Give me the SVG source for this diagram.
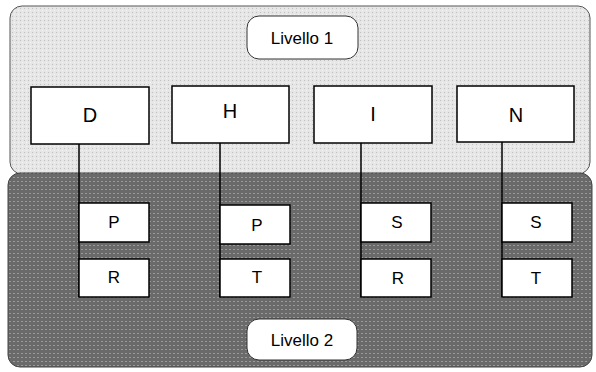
<svg xmlns="http://www.w3.org/2000/svg" width="596" height="372" viewBox="0 0 596 372">
<defs>
<pattern id="lightDots" x="0" y="0" width="4" height="4" patternUnits="userSpaceOnUse">
<rect width="4" height="4" fill="#e6e6e6"/>
<rect x="0" y="0" width="1" height="1" fill="#c0c0c0"/>
<rect x="2" y="2" width="1" height="1" fill="#f6f6f6"/>
</pattern>
<pattern id="darkDots" x="0" y="0" width="4" height="4" patternUnits="userSpaceOnUse">
<rect width="4" height="4" fill="#6a6a6a"/>
<rect x="1" y="1" width="2" height="1" fill="#9a9a9a"/>
</pattern>
<style>
.box{fill:#ffffff;stroke:#000000;stroke-width:1.5}
.lbl{fill:#ffffff;stroke:#333333;stroke-width:1}
.conn{stroke:#000000;stroke-width:1.5;fill:none}
text{font-family:"Liberation Sans",Arial,sans-serif;fill:#000000;text-anchor:middle}
.big{font-size:20px}
.small{font-size:17px}
.lv{font-size:17px}
</style>
</defs>
<g id="panel1">
<rect x="10" y="6" width="580" height="168" rx="12" ry="12" fill="url(#lightDots)" stroke="#555555" stroke-width="1"/>
</g>
<g id="panel2">
<rect x="8" y="173" width="584" height="194" rx="12" ry="12" fill="url(#darkDots)" stroke="#444444" stroke-width="1"/>
</g>
<g id="connectors">
<line class="conn" x1="79" y1="144" x2="79" y2="297"/>
<line class="conn" x1="220" y1="143" x2="220" y2="297"/>
<line class="conn" x1="361" y1="143" x2="361" y2="297"/>
<line class="conn" x1="502" y1="142" x2="502" y2="297"/>
</g>
<g id="livello1">
<rect class="lbl" x="247" y="16" width="111" height="43" rx="12" ry="12"/>
<text class="lv" x="302" y="44">Livello 1</text>
</g>
<g id="livello2">
<rect class="lbl" x="247" y="319" width="110" height="41" rx="12" ry="12"/>
<text class="lv" x="302" y="346">Livello 2</text>
</g>
<g id="nodeD">
<rect class="box" x="31" y="87" width="118" height="57"/>
<text class="big" x="90" y="122">D</text>
</g>
<g id="nodeH">
<rect class="box" x="172" y="86" width="117" height="57"/>
<text class="big" x="230" y="118">H</text>
</g>
<g id="nodeI">
<rect class="box" x="314" y="86" width="118" height="57"/>
<text class="big" x="373" y="121">I</text>
</g>
<g id="nodeN">
<rect class="box" x="457" y="86" width="117" height="56"/>
<text class="big" x="516" y="122">N</text>
</g>
<g id="nodeD_P">
<rect class="box" x="79" y="203" width="70" height="39"/>
<text class="small" x="114" y="228">P</text>
</g>
<g id="nodeD_R">
<rect class="box" x="79" y="259" width="70" height="38"/>
<text class="small" x="114" y="283">R</text>
</g>
<g id="nodeH_P">
<rect class="box" x="220" y="205" width="70" height="39"/>
<text class="small" x="257" y="231">P</text>
</g>
<g id="nodeH_T">
<rect class="box" x="220" y="259" width="70" height="38"/>
<text class="small" x="257" y="283">T</text>
</g>
<g id="nodeI_S">
<rect class="box" x="361" y="203" width="70" height="39"/>
<text class="small" x="397" y="228">S</text>
</g>
<g id="nodeI_R">
<rect class="box" x="361" y="259" width="70" height="38"/>
<text class="small" x="398" y="284">R</text>
</g>
<g id="nodeN_S">
<rect class="box" x="502" y="203" width="70" height="39"/>
<text class="small" x="536" y="228">S</text>
</g>
<g id="nodeN_T">
<rect class="box" x="502" y="259" width="70" height="38"/>
<text class="small" x="536" y="284">T</text>
</g>
</svg>
